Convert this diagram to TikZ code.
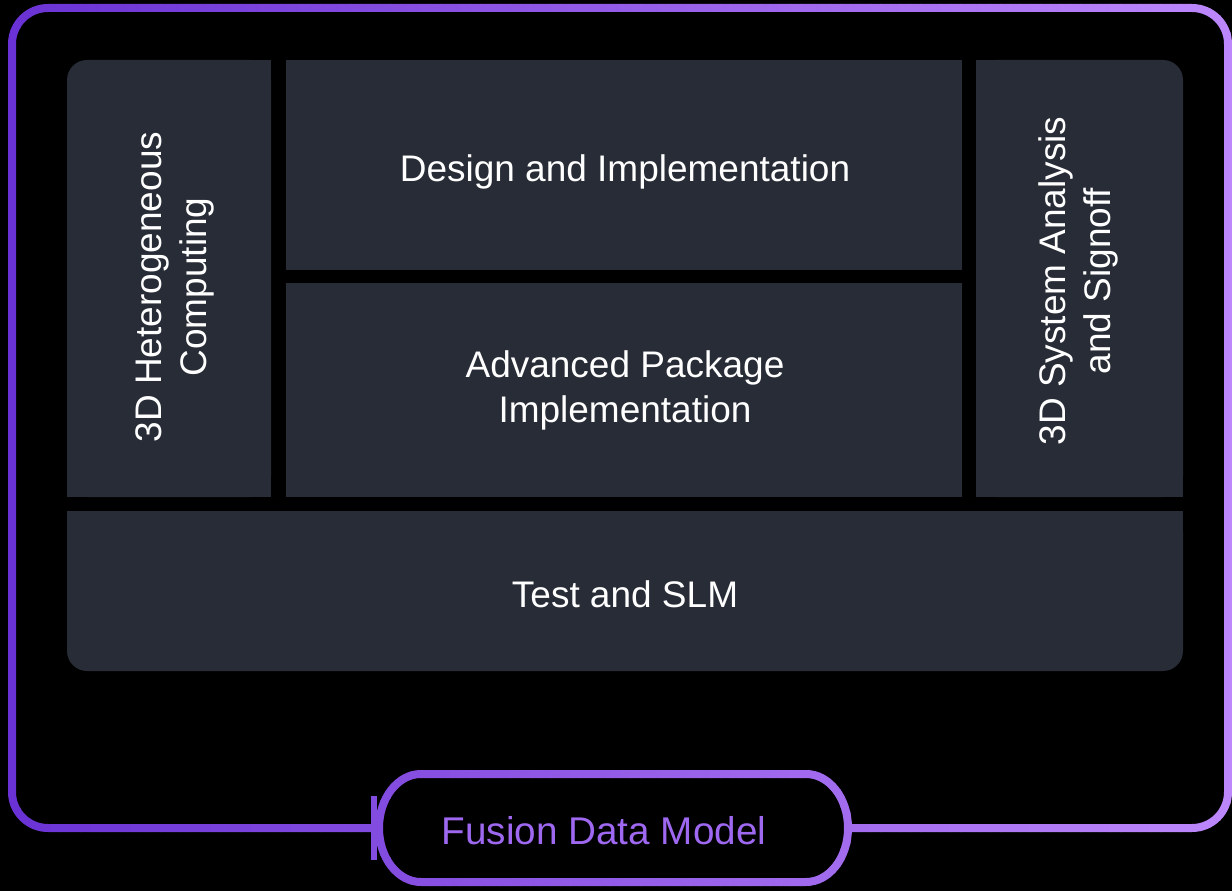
\documentclass[tikz,border=0pt]{standalone}
\usepackage{fontspec}
\setmainfont{Liberation Sans}
\usepackage{tikz}
\usetikzlibrary{calc}
\definecolor{panelgray}{RGB}{40,44,54}
\definecolor{fdmL}{RGB}{106,50,212}
\definecolor{fdmR}{RGB}{190,136,252}
\definecolor{fdmtext}{RGB}{158,104,240}
\tikzstyle{panel}=[fill=panelgray]
\tikzstyle{lbl}=[text=white, font=\fontsize{27.75}{33.75}\selectfont, align=center, inner sep=0]
\tikzstyle{vlbl}=[lbl, rotate=90]
\tikzstyle{fdmline}=[line width=6pt, rounded corners=27pt]
\tikzstyle{pill}=[minimum width=351.75pt, minimum height=81pt, inner sep=0, outer sep=0]
\tikzstyle{pillend}=[x radius=31.5pt, y radius=40.5pt]

\begin{document}
\begin{tikzpicture}[x=0.75pt,y=-0.75pt]
\fill[black] (0,0) rectangle (1232,891);
\useasboundingbox (0,0) rectangle (1232,891);

\fill[panel, rounded corners=15pt] (67,60) rectangle (271,497);
\fill[panel] (150,60) rectangle (271,497);
\fill[panel] (67,150) rectangle (271,497);
\fill[panel] (286,60) rectangle (962,270);
\fill[panel] (286,283) rectangle (962,497);
\fill[panel, rounded corners=15pt] (976,60) rectangle (1183,497);
\fill[panel] (976,60) rectangle (1100,497);
\fill[panel] (976,150) rectangle (1183,497);
\fill[panel, rounded corners=15pt] (67,511) rectangle (1183,671);
\fill[panel] (67,511) rectangle (1183,600);

\node[vlbl] (hc) at (175,287) {3D Heterogeneous\\Computing};
\node[lbl] (di) at (625,172) {Design and Implementation};
\node[lbl] (ap) at (625,390) {Advanced Package\\Implementation};
\node[vlbl] (sa) at (1078,281) {3D System Analysis\\and Signoff};
\node[lbl] (ts) at (625,594) {Test and SLM};

\node[pill] (fdm) at (613.5,828) {};
\foreach \i in {0,...,123}{
  \pgfmathtruncatemacro\pct{100*\i/123}
  \begin{scope}
    \clip ({\i*10},-5) rectangle ++(10.6,900);
    \draw[fdmline, fdmR!\pct!fdmL] (fdm.west) -- (12,828) -- (12,8) -- (1228,8) -- (1228,828) -- (fdm.east);
    \draw[line width=6pt, fdmR!\pct!fdmL] ($(fdm.north west)+(42,0)$) -- ($(fdm.north east)+(-42,0)$)
      arc[start angle=90, end angle=-90, pillend] -- ($(fdm.south west)+(42,0)$)
      arc[start angle=270, end angle=90, pillend] -- cycle;
    \draw[line width=4.5pt, fdmR!\pct!fdmL] ($(fdm.west)+(-5,-32)$) -- ($(fdm.west)+(-5,32)$);
  \end{scope}
}
\node[text=fdmtext, font=\fontsize{29}{34}\selectfont, inner sep=0] (fdmtxt) at (604,831) {Fusion Data Model};
\end{tikzpicture}
\end{document}
